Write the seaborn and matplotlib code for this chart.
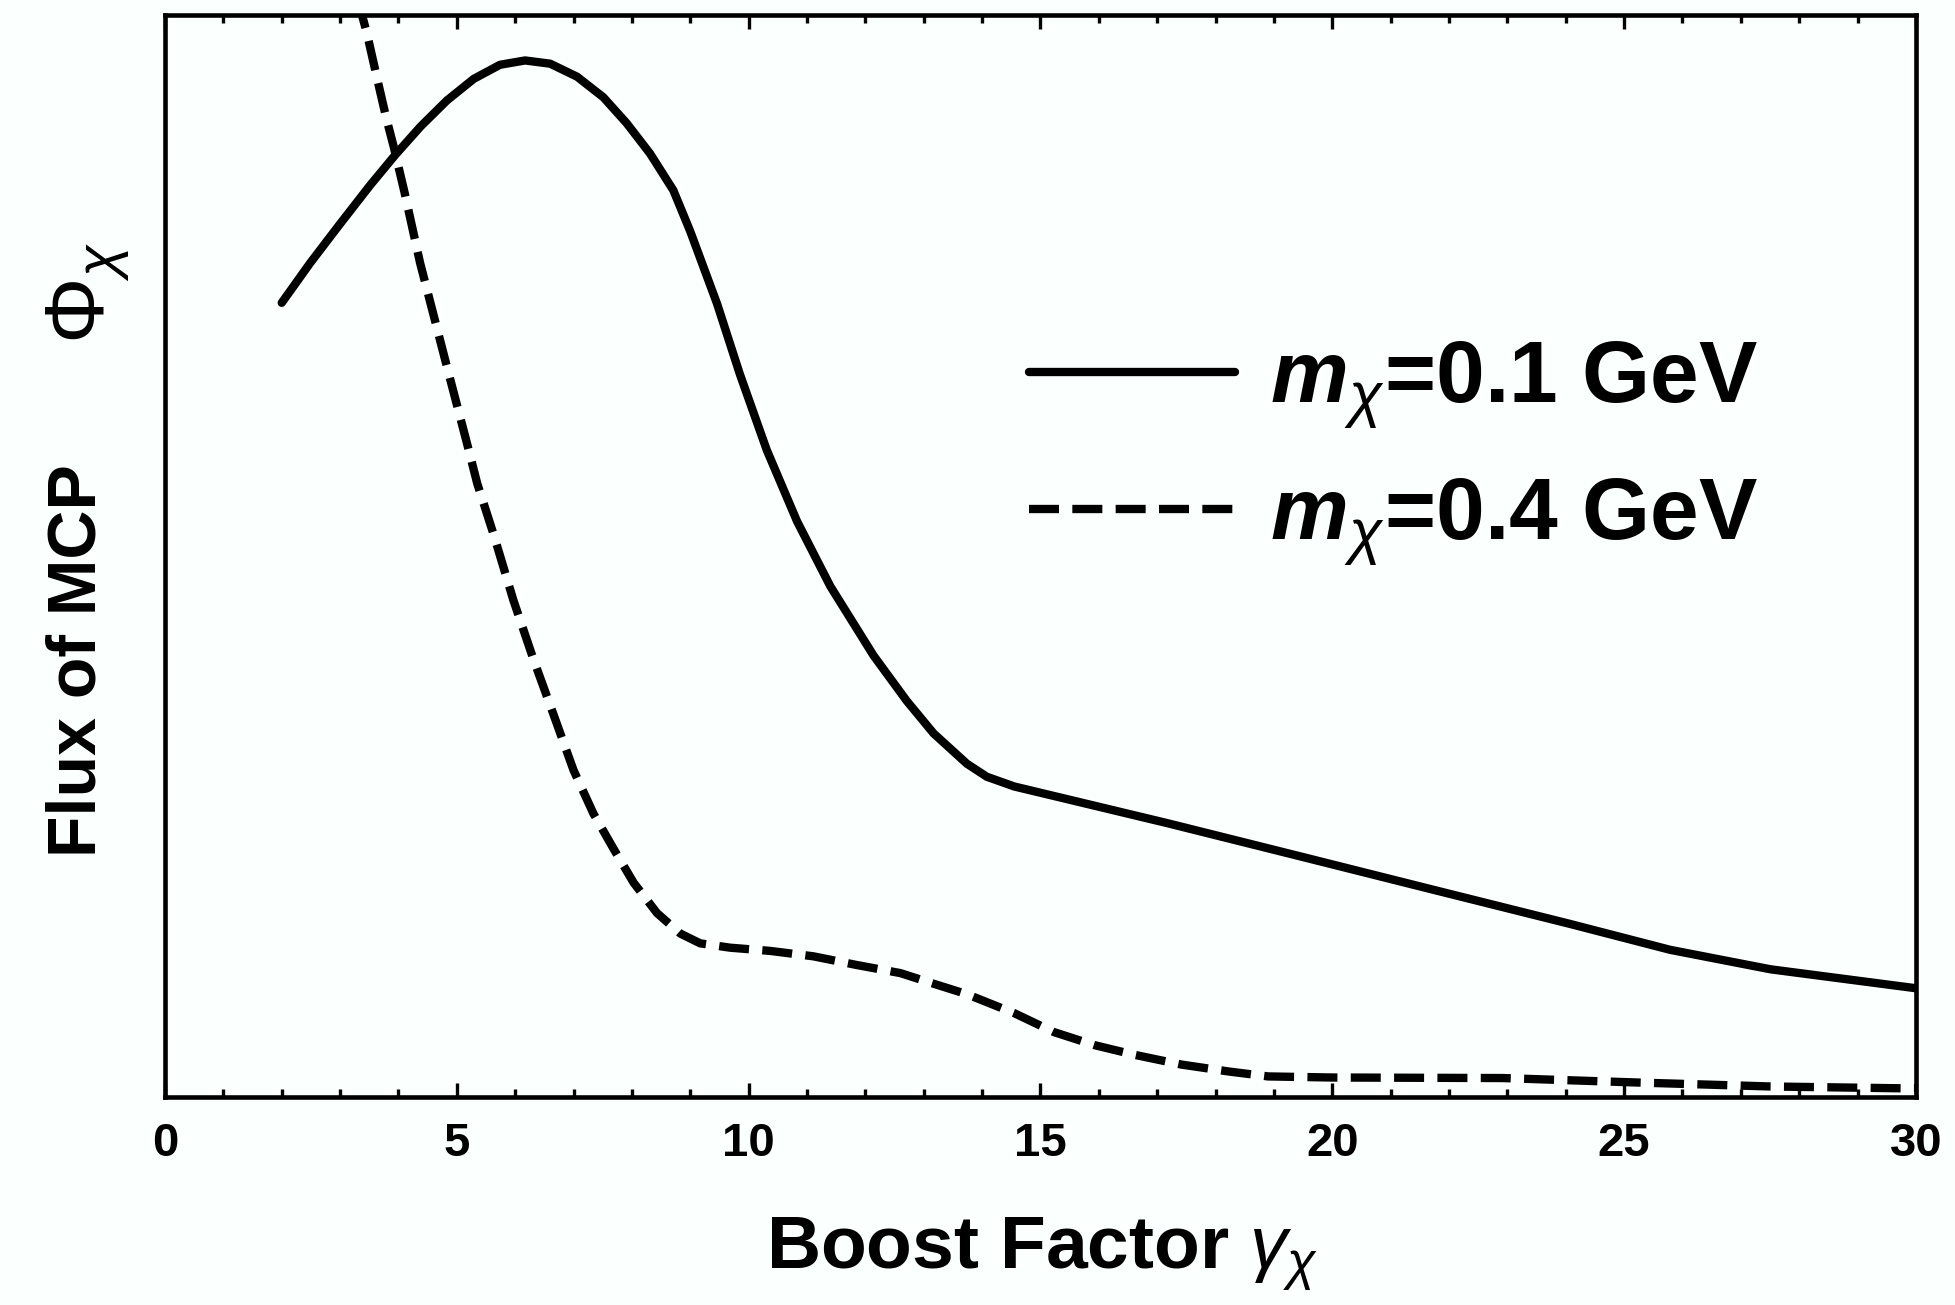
import matplotlib
matplotlib.use("Agg")
import matplotlib.pyplot as plt
from matplotlib.ticker import MultipleLocator, NullLocator
import pandas as pd
import seaborn as sns

# Flux of millicharged particles vs boost factor (arbitrary units)
gamma_light = [2.0, 2.49, 3.0, 3.52, 3.95, 4.38, 4.83, 5.29, 5.74, 6.17, 6.60, 7.06,
               7.51, 7.91, 8.31, 8.71, 9.0, 9.46, 9.85, 10.31, 10.83, 11.40, 12.14,
               12.71, 13.17, 13.74, 14.08, 14.55, 17.18, 19.48, 21.77, 24.07, 25.79,
               27.51, 30.0]
flux_light = [0.734, 0.771, 0.807, 0.843, 0.871, 0.897, 0.921, 0.941, 0.954, 0.958,
              0.955, 0.943, 0.924, 0.900, 0.872, 0.838, 0.800, 0.733, 0.668, 0.598,
              0.532, 0.472, 0.408, 0.366, 0.336, 0.308, 0.296, 0.287, 0.253, 0.222,
              0.191, 0.160, 0.136, 0.118, 0.1005]

gamma_heavy = [3.2, 3.46, 3.64, 3.79, 3.92, 4.10, 4.37, 4.83, 5.17, 5.35, 5.63, 5.97,
               6.31, 6.66, 7.00, 7.34, 7.69, 8.03, 8.43, 8.83, 9.17, 9.68, 10.37,
               11.11, 11.85, 12.60, 13.05, 13.74, 14.55, 15.23, 15.92, 16.61, 17.41,
               18.22, 18.90, 20.0, 22.92, 25.21, 27.51, 29.8, 30.0]
flux_heavy = [1.035, 0.983, 0.940, 0.905, 0.878, 0.837, 0.771, 0.675, 0.605, 0.567,
              0.520, 0.459, 0.405, 0.353, 0.302, 0.262, 0.229, 0.198, 0.170, 0.151,
              0.142, 0.138, 0.135, 0.130, 0.122, 0.1145, 0.1067, 0.095, 0.0775, 0.060,
              0.048, 0.039, 0.030, 0.0236, 0.019, 0.018, 0.0175, 0.0134, 0.0097,
              0.008, 0.008]

labels = [r"$\mathbfit{m}_{\chi}$=0.1 GeV", r"$\mathbfit{m}_{\chi}$=0.4 GeV"]

df = pd.concat([
    pd.DataFrame({"gamma": gamma_light, "flux": flux_light, "mass": labels[0]}),
    pd.DataFrame({"gamma": gamma_heavy, "flux": flux_heavy, "mass": labels[1]}),
], ignore_index=True)

sns.set_style("white")
plt.rcParams["font.family"] = ["Liberation Sans", "DejaVu Sans"]
plt.rcParams["text.color"] = "black"
plt.rcParams["axes.labelcolor"] = "black"
plt.rcParams["xtick.color"] = "black"
plt.rcParams["ytick.color"] = "black"
plt.rcParams["mathtext.fontset"] = "custom"
plt.rcParams["mathtext.rm"] = "Liberation Sans"
plt.rcParams["mathtext.it"] = "Liberation Sans:italic"
plt.rcParams["mathtext.bf"] = "Liberation Sans:bold"
plt.rcParams["mathtext.bfit"] = "Liberation Sans:bold:italic"

bg = "#fbfffd"
fig = plt.figure(figsize=(19.55, 13.05), dpi=100, facecolor=bg)
ax = fig.add_axes([0.0844, 0.1594, 0.8956, 0.8291])
ax.set_facecolor(bg)

lw = 6.0
sns.lineplot(data=df, x="gamma", y="flux", style="mass", style_order=labels,
             dashes={labels[0]: "", labels[1]: (3.6, 1.6)}, color="black",
             linewidth=lw, sort=False, estimator=None, ax=ax, legend=True)
for line in ax.get_lines():
    line.set_solid_joinstyle("round")
    line.set_dash_joinstyle("round")

ax.set_xlim(0, 30)
ax.set_ylim(0, 1)

for s in ax.spines.values():
    s.set_linewidth(3.3)
    s.set_color("black")
    s.set_visible(True)

ax.xaxis.set_major_locator(MultipleLocator(5))
ax.xaxis.set_minor_locator(MultipleLocator(1))
ax.yaxis.set_major_locator(NullLocator())
ax.tick_params(axis="x", which="major", direction="in", length=10, width=2.4,
               top=True, bottom=True, pad=18, labelsize=34)
ax.tick_params(axis="x", which="minor", direction="in", length=5.5, width=2.4,
               top=True, bottom=True)
for t in ax.get_xticklabels():
    t.set_fontweight("bold")

ax.set_xlabel("")
ax.set_ylabel("")
fig.text(0.533, 0.0274, r"Boost Factor $\gamma_{\chi}$", fontsize=54,
         fontweight="bold", ha="center", va="baseline")
fig.text(0.0396, 0.4935, "Flux of MCP", fontsize=49, fontweight="bold",
         rotation=90, ha="center", va="center")
fig.text(0.0450, 0.7755, r"$\Phi_{\chi}$", fontsize=60, rotation=90,
         ha="center", va="center")

handles, _ = ax.get_legend_handles_labels()
for h in handles:
    h.set_linewidth(lw)
ax.legend(handles=handles, labels=labels, loc="upper left",
          bbox_to_anchor=(0.4934, 0.70), frameon=False, handlelength=2.35,
          handletextpad=0.4, labelspacing=0.51, borderpad=0, borderaxespad=0,
          prop={"weight": "bold", "size": 63})

fig.savefig("out.png", dpi=100, facecolor=bg)
